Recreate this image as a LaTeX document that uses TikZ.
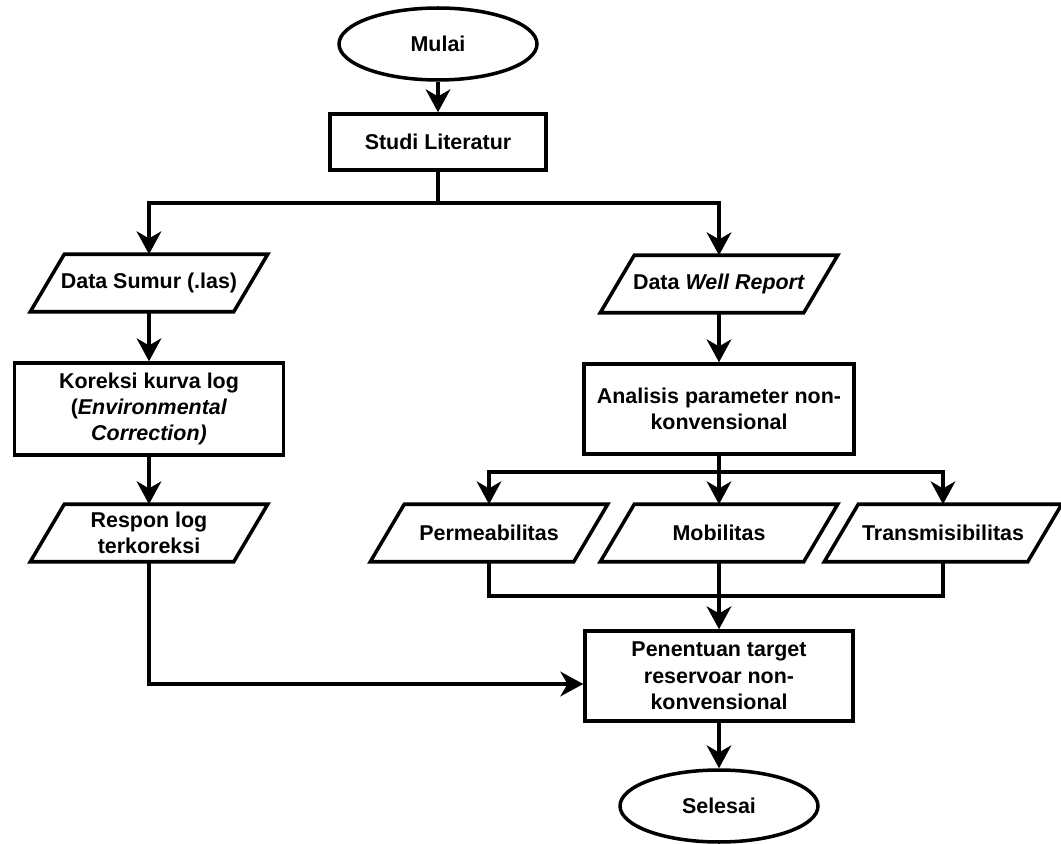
\documentclass[tikz,border=0pt]{standalone}
\usepackage{fontspec}
\setmainfont{Liberation Sans}
\usetikzlibrary{shapes.geometric,arrows.meta}

\begin{document}
\begin{tikzpicture}[x=0.02cm,y=-0.02cm,line width=2pt,
    every node/.style={font=\bfseries\fontsize{12.2}{15}\selectfont,align=center},
    terminal/.style={ellipse,draw,minimum width=3.96cm,minimum height=1.44cm,inner sep=0pt},
    process/.style={rectangle,draw,minimum height=1.8cm,inner sep=2pt},
    io/.style={rectangle,minimum width=4cm,minimum height=1.08cm,inner sep=1pt},
    arr/.style={-{Stealth[length=13pt,width=14pt,inset=4pt]}}]
    \useasboundingbox (0,0) rectangle (1061,844);
    \node[terminal] (mulai) at (438,44) {Mulai};
    \node[process,minimum width=4.32cm,minimum height=1.12cm] (studi) at (438,142) {Studi Literatur};
    \node[io] (dsumur) at (149,283) {Data Sumur (.las)};
    \node[io] (dwell) at (719,284) {Data \textit{Well Report}};
    \node[process,minimum width=5.38cm,minimum height=1.84cm] (koreksi) at (149,409)
      {Koreksi kurva log\\(\textit{Environmental}\\\textit{Correction)}};
    \node[process,minimum width=5.4cm] (analisis) at (719,409) {Analisis parameter non-\\konvensional};
    \node[io] (respon) at (149,533) {Respon log\\terkoreksi};
    \node[io] (perm) at (489,533) {Permeabilitas};
    \node[io] (mob) at (719,533) {Mobilitas};
    \node[io] (trans) at (943,533) {Transmisibilitas};
    \node[process,minimum width=5.36cm] (penentuan) at (719,676) {Penentuan target\\reservoar non-\\konvensional};
    \node[terminal] (selesai) at (719,806) {Selesai};
    % bingkai jajaran genjang
    \foreach \n in {dsumur,dwell,respon,perm,mob,trans} {
      \draw ([xshift=-0.34cm]\n.south west) -- ([xshift=0.34cm]\n.north west)
        -- ([xshift=0.34cm]\n.north east) -- ([xshift=-0.34cm]\n.south east) -- cycle;
    }
    \coordinate (split) at (438,203);
    \coordinate (branch) at (719,472);
    \coordinate (merge) at (719,596);
    % alur utama
    \draw[arr] (mulai) -- (studi);
    \draw (studi) -- (split);
    \draw[arr] (split) -| (dsumur);
    \draw[arr] (split) -| (dwell);
    \draw[arr] (dsumur) -- (koreksi);
    \draw[arr] (koreksi) -- (respon);
    \draw[arr] (dwell) -- (analisis);
    % percabangan parameter
    \draw (analisis) -- (branch);
    \draw[arr] (branch) -| (perm);
    \draw[arr] (branch) -- (mob);
    \draw[arr] (branch) -| (trans);
    \draw (perm) |- (merge);
    \draw (trans) |- (merge);
    \draw[arr] (mob) -- (penentuan);
    \draw[arr] (respon) |- ([yshift=-0.16cm]penentuan.west);
    \draw[arr] (penentuan) -- (selesai);
\end{tikzpicture}
\end{document}
